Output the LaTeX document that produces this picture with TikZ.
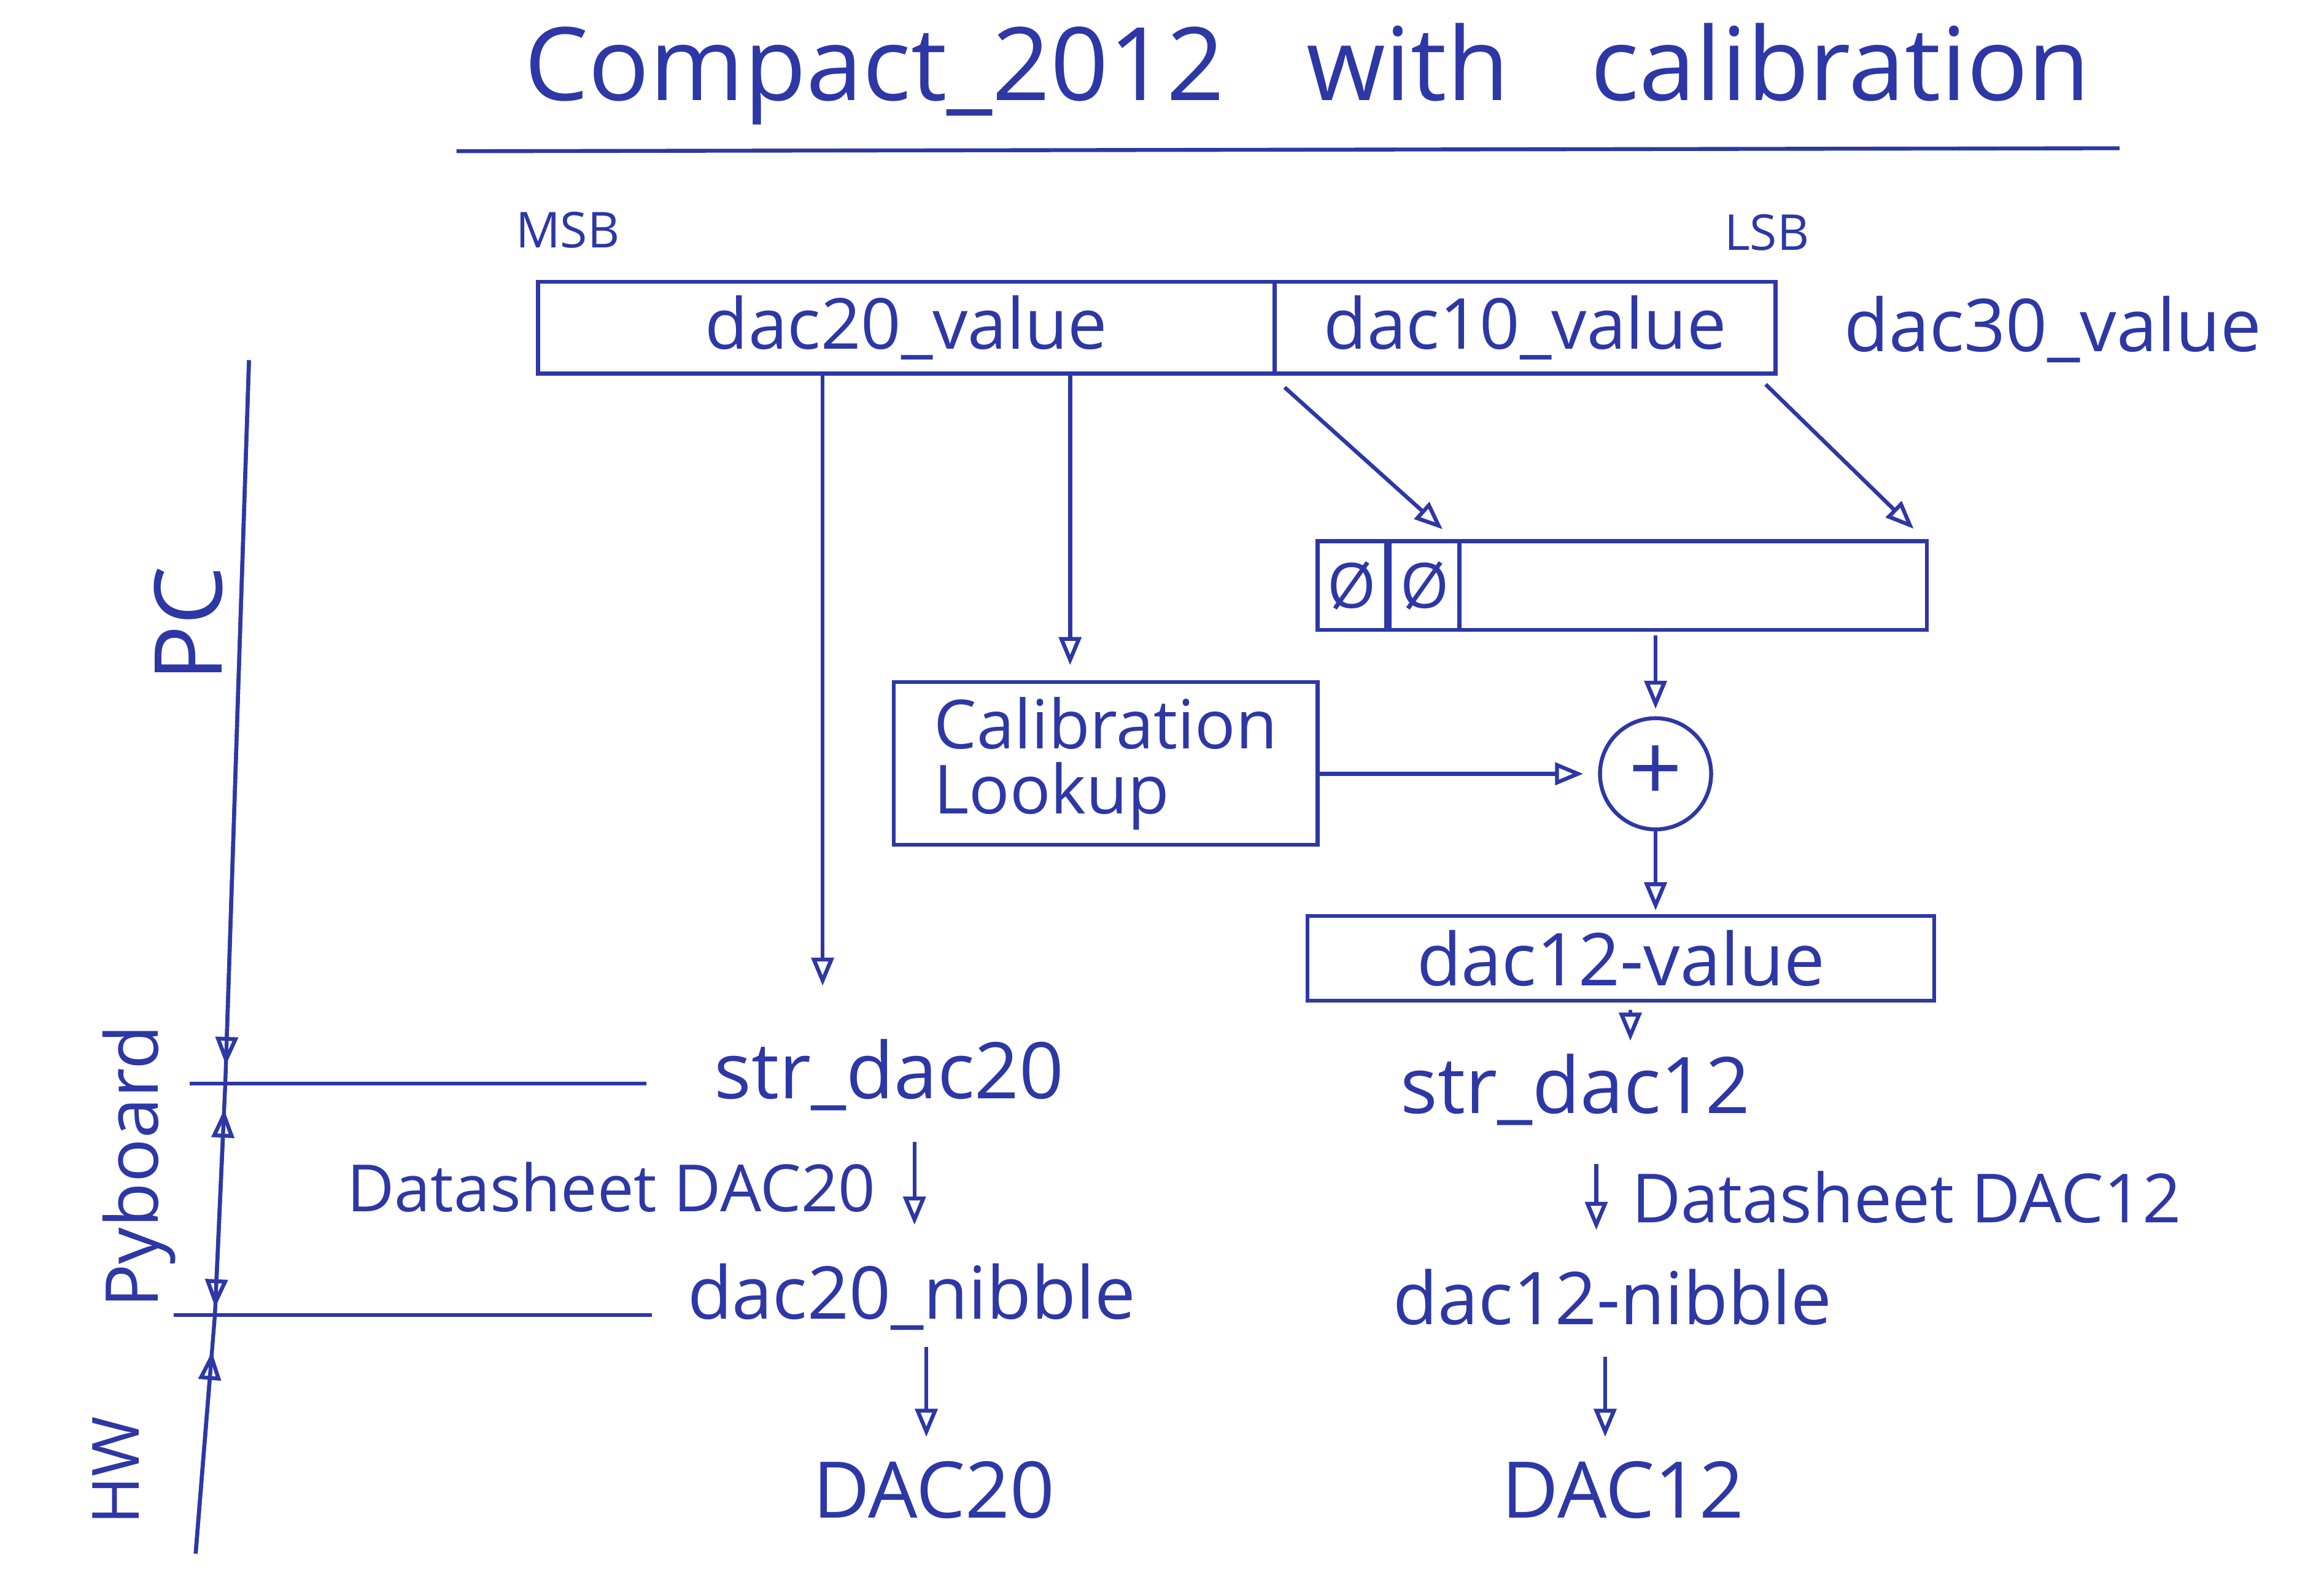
\documentclass[tikz,border=0pt]{standalone}
\usepackage{fontspec}
\setmainfont{Open Sans}
\usepackage{tikz}
\usetikzlibrary{arrows.meta,calc}
\definecolor{ink}{RGB}{45,55,165}

\begin{document}
\begin{tikzpicture}[x=0.02cm,y=-0.02cm,ink,line width=1.5pt,
    every node/.style={text=ink,inner sep=0pt},
    txt/.style={font=\fontsize{#1}{#1}\selectfont},
    fld/.style={draw,minimum height=1.2cm},
    arr/.style={-{Triangle[open,length=0.38cm,width=0.3cm]}}]
      \fill[white] (0,0) rectangle (1568,1065);
      \useasboundingbox (0,0) rectangle (1568,1065);
      % title
      \node[txt=39] (title) at (882,50) {Compact\_2012\hspace{1.1cm}with\hspace{1.1cm}calibration};
      \draw (308,102) -- (1430,100);
      \node[txt=19] (msb) at (383,155) {MSB};
      \node[txt=19] (lsb) at (1192,157) {LSB};
      % input word
      \node[fld,txt=27,minimum width=9.94cm,minimum height=1.24cm] (f20) at (611.5,221) {dac20\_value};
      \node[fld,txt=27,minimum width=6.76cm,minimum height=1.24cm] (f10) at (1029,221) {dac10\_value};
      \node[txt=28] (v30) at (1385,222) {dac30\_value};
      % PC side
      \node[fld,minimum width=8.22cm] (zbox) at (1094.5,395) {};
      \node[fld,txt=24,minimum width=0.92cm,anchor=west] (z1) at (zbox.west) {\O};
      \node[fld,txt=24,minimum width=0.94cm,anchor=west] (z2) at (z1.east) {\O};
      \node[fld,minimum width=5.72cm,minimum height=2.2cm,align=left,
        font=\fontsize{26}{25}\selectfont] (cal) at (746,515) {Calibration\\Lookup};
      \node[draw,circle,minimum size=1.5cm,txt=36] (plus) at (1117,522) {+};
      \node[fld,txt=28,minimum width=8.46cm,minimum height=1.14cm] (v12) at (1093.5,646.5) {dac12-value};
      \draw[arr,shorten >=0.1cm] ([xshift=-1.13cm]f20.south) -- ([xshift=-1.13cm]f20.south |- 0,670);
      \draw[arr,shorten >=0.2cm] ([xshift=-0.48cm]cal.north |- f20.south) -- ([xshift=-0.48cm]cal.north);
      \draw[arr,shorten >=0.2cm] ($(f10.south west)+(8,8)$) -- ($(zbox.north west)+(93,0)$);
      \draw[arr,shorten >=0.2cm] ($(f10.south east)+(-8,6)$) -- ($(zbox.north east)+(-3,0)$);
      \draw[arr,shorten <=0.05cm,shorten >=0.1cm] (plus.north |- zbox.south) -- (plus.north);
      \draw[arr,shorten >=0.2cm] (cal.east |- plus.west) -- (plus.west);
      \draw[arr,shorten >=0.05cm] (plus.south) -- (plus.south |- v12.north);
      % str and nibbles
      \node[txt=30] (str20) at (600,725) {str\_dac20};
      \node[txt=28] (nib20) at (615,875) {dac20\_nibble};
      \node[txt=30] (hw20) at (630,1005) {DAC20};
      \node[txt=30] (str12) at (1063,735) {str\_dac12};
      \node[txt=28] (nib12) at (1088,875) {dac12-nibble};
      \node[txt=30] (hw12) at (1095,1005) {DAC12};
      \draw[arr,shorten <=0.1cm,shorten >=0.15cm] ([xshift=0.74cm]str12.north |- v12.south) -- ([xshift=0.74cm]str12.north);
      \draw[arr,shorten <=0.4cm,shorten >=0.5cm] ([xshift=0.04cm]nib20.north |- str20.south) -- ([xshift=0.04cm]nib20.north)
      node[midway,left=0.5cm,txt=25] (ds20) {Datasheet DAC20};
      \draw[arr,shorten <=0.5cm,shorten >=0.5cm] ([xshift=-0.22cm]nib12.north |- str12.south) -- ([xshift=-0.22cm]nib12.north)
      node[midway,right=0.45cm,txt=26] (ds12) {Datasheet DAC12};
      \draw[arr,shorten <=0.2cm,shorten >=0.3cm] ([xshift=-0.1cm]hw20.north |- nib20.south) -- ([xshift=-0.1cm]hw20.north);
      \draw[arr,shorten <=0.4cm,shorten >=0.3cm] ([xshift=-0.24cm]hw12.north |- nib12.south) -- ([xshift=-0.24cm]hw12.north);
      % layers
      \coordinate (axtop) at (168,243);
      \coordinate (axbot) at (132,1048);
      \coordinate (pb1) at (152,731);
      \coordinate (pb2) at (145,887);
      \draw (128,731) -- (436,731);
      \draw (117,887) -- (440,887);
      \draw (axtop) -- (pb1) -- (pb2) -- (axbot);
      \draw[arr,shorten >=0.25cm] (axtop) -- (pb1);
      \draw[{Triangle[open,length=0.38cm,width=0.3cm]}-{Triangle[open,length=0.38cm,width=0.3cm]},
        shorten <=0.35cm,shorten >=0.1cm] (pb1) -- (pb2);
      \draw[arr,shorten >=0.5cm] (axbot) -- (pb2);
      \node[txt=36,rotate=90] (pc) at (127,421) {PC};
      \node[txt=28,rotate=90] (pyb) at (94,787) {Pyboard};
      \node[txt=25,rotate=90] (hw) at (78,992) {HW};
    \end{tikzpicture}
\end{document}
